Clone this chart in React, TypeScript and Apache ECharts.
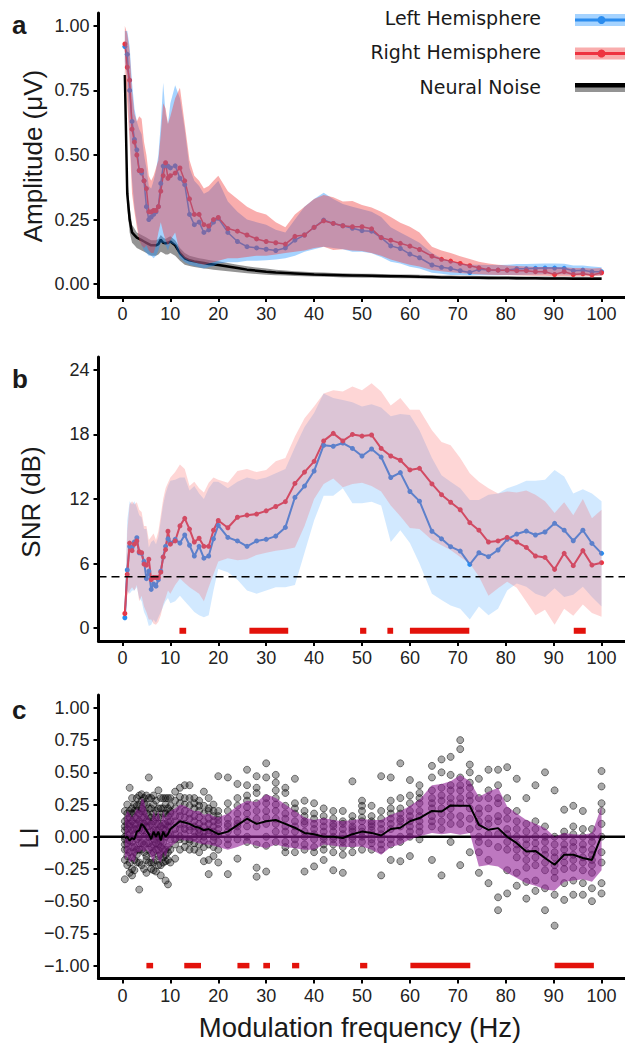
import React, { useEffect, useRef } from 'react';
import * as echarts from 'echarts';

// ---------------- DATA ----------------
const FREQ = [
  0.5, 1, 1.5, 2, 2.5, 3, 3.5, 4, 4.5, 5,
  5.5, 6, 6.5, 7, 7.5, 8, 8.5, 9, 9.5, 10,
  11, 12, 13, 14, 15, 16, 17, 18, 19, 20,
  22, 24, 26, 28, 30, 32, 34, 36, 38, 40,
  42, 44, 46, 48, 50, 52, 54, 56, 58, 60,
  62, 64.6, 66.6, 68.5, 70.5, 72.5, 74.4, 76.4, 78.4, 80.3,
  82.3, 84.3, 86.2, 88.2, 90.2, 92.2, 94.1, 96.1, 98, 100,
];
const X_TICKS = [0, 10, 20, 30, 40, 50, 60, 70, 80, 90, 100];
const AMP_TICKS = [0, 0.25, 0.5, 0.75, 1];
const SNR_TICKS = [0, 6, 12, 18, 24];
const LI_TICKS = [-1, -0.75, -0.5, -0.25, 0, 0.25, 0.5, 0.75, 1];
const LEGEND_LABELS = ['Left Hemisphere', 'Right Hemisphere', 'Neural Noise'];

// Panel a: amplitude (µV)
const AMP_LEFT = [
  .92, .89, .75, .63, .56, .52, .44, .43, .40, .30,
  .25, .26, .27, .28, .30, .39, .457, .46, .457, .45,
  .458, .41, .385, .27, .23, .24, .20, .21, .24, .255,
  .20, .165, .145, .14, .135, .13, .14, .17, .19, .22,
  .248, .235, .226, .216, .207, .205, .18, .148, .138, .116,
  .102, .074, .065, .06, .052, .045, .057, .055, .054, .054,
  .059, .059, .061, .062, .062, .061, .052, .054, .048, .048,
];
const AMP_RIGHT = [
  .93, .84, .79, .60, .55, .50, .44, .44, .40, .37,
  .28, .28, .285, .285, .30, .36, .42, .47, .41, .42,
  .43, .45, .40, .33, .27, .27, .23, .225, .25, .258,
  .215, .205, .19, .175, .165, .16, .155, .185, .19, .22,
  .245, .235, .226, .222, .222, .214, .18, .17, .158, .147,
  .134, .108, .096, .089, .08, .071, .063, .056, .054, .054,
  .052, .052, .048, .048, .037, .048, .037, .04, .035, .044,
];
const AMP_LEFT_HI = [
  .98, .98, .92, .78, .68, .63, .60, .58, .50, .45,
  .38, .37, .40, .44, .50, .62, .78, .66, .62, .70,
  .77, .72, .60, .45, .40, .38, .35, .36, .38, .40,
  .32, .28, .25, .24, .23, .21, .20, .25, .30, .33,
  .354, .33, .31, .30, .29, .28, .26, .22, .20, .18,
  .16, .12, .10, .09, .08, .075, .075, .074, .074, .075,
  .078, .078, .079, .08, .08, .079, .072, .072, .068, .065,
];
const AMP_LEFT_LO = [
  .86, .80, .58, .40, .30, .24, .18, .15, .13, .12,
  .11, .11, .10, .11, .13, .16, .16, .15, .13, .16,
  .15, .10, .085, .075, .07, .065, .06, .065, .07, .08,
  .085, .085, .09, .09, .092, .095, .10, .11, .125, .135,
  .145, .14, .135, .125, .125, .119, .105, .087, .08, .067,
  .06, .044, .04, .035, .035, .034, .034, .034, .034, .035,
  .035, .036, .037, .038, .038, .037, .035, .035, .034, .034,
];
const AMP_RIGHT_HI = [
  1.0, .97, .90, .75, .66, .63, .65, .64, .55, .50,
  .42, .40, .42, .45, .48, .58, .70, .68, .62, .65,
  .72, .76, .62, .48, .42, .40, .37, .38, .40, .42,
  .36, .33, .30, .28, .27, .24, .22, .27, .30, .33,
  .345, .336, .32, .322, .306, .297, .28, .26, .238, .222,
  .20, .145, .13, .12, .108, .097, .087, .08, .075, .072,
  .07, .068, .066, .066, .065, .065, .062, .062, .06, .062,
];
const AMP_RIGHT_LO = [
  .85, .70, .55, .35, .28, .22, .17, .15, .14, .15,
  .13, .12, .12, .15, .20, .24, .20, .17, .15, .17,
  .20, .12, .10, .09, .085, .08, .075, .08, .085, .09,
  .10, .10, .105, .11, .11, .115, .12, .125, .13, .14,
  .145, .132, .135, .13, .128, .12, .11, .095, .085, .075,
  .068, .055, .05, .046, .043, .04, .038, .036, .035, .035,
  .034, .033, .032, .032, .03, .03, .03, .03, .03, .032,
];
const NOISE = [
  .81, .35, .25, .20, .19, .18, .175, .17, .165, .16,
  .155, .15, .15, .15, .155, .172, .16, .158, .16, .165,
  .15, .12, .10, .092, .088, .085, .082, .078, .076, .074,
  .068, .062, .056, .052, .048, .045, .043, .041, .039, .037,
  .036, .035, .034, .033, .033, .032, .031, .03, .03, .029,
  .028, .027, .026, .026, .025, .025, .025, .024, .024, .024,
  .023, .023, .023, .022, .022, .022, .021, .021, .021, .021,
];
const NOISE_LO = [
  .78, .30, .20, .16, .15, .14, .135, .13, .125, .12,
  .115, .11, .11, .11, .115, .125, .12, .115, .115, .12,
  .11, .09, .075, .07, .066, .063, .06, .058, .056, .054,
  .05, .046, .042, .039, .036, .034, .033, .031, .03, .029,
  .028, .027, .026, .026, .025, .025, .024, .024, .023, .023,
  .022, .021, .021, .02, .02, .02, .019, .019, .019, .019,
  .018, .018, .018, .018, .017, .017, .017, .017, .017, .017,
];
const NOISE_HI = [
  .84, .42, .30, .23, .215, .20, .195, .19, .185, .18,
  .175, .17, .17, .17, .175, .19, .18, .175, .18, .185,
  .17, .14, .12, .11, .105, .10, .097, .093, .09, .088,
  .082, .075, .069, .064, .06, .056, .053, .05, .048, .046,
  .045, .043, .042, .041, .04, .04, .039, .038, .037, .037,
  .036, .034, .033, .033, .032, .032, .031, .031, .03, .03,
  .03, .029, .029, .029, .028, .028, .028, .028, .027, .027,
];

// Panel b: SNR (dB)
const SNR_LEFT = [
  .96, 5.4, 7.6, 7.5, 8.0, 8.4, 7.0, 6.95, 6.2, 4.6,
  5.3, 3.6, 4.1, 3.9, 4.5, 5.3, 6.6, 7.6, 8.3, 7.9,
  8.25, 7.9, 8.65, 7.7, 6.7, 7.6, 6.5, 6.7, 8.3, 9.55,
  8.43, 8.1, 7.6, 8.1, 8.25, 8.55, 9.36, 12.15, 13.2, 14.6,
  17.0, 16.9, 17.2, 16.7, 16.0, 16.65, 15.9, 14.0, 14.45, 12.7,
  11.8, 9.0, 8.3, 7.57, 7.16, 5.92, 7.0, 6.64, 7.26, 8.25,
  8.74, 9.02, 8.65, 8.93, 9.74, 9.1, 8.12, 9.1, 7.87, 6.95,
];
const SNR_RIGHT = [
  1.36, 5.0, 7.9, 7.2, 7.8, 8.1, 7.1, 7.0, 5.95, 5.85,
  6.4, 4.5, 4.7, 4.7, 4.7, 5.2, 6.6, 7.3, 9.0, 7.8,
  8.1, 9.5, 10.2, 9.2, 8.0, 8.35, 7.6, 7.6, 9.1, 10.0,
  9.33, 10.3, 10.5, 10.6, 10.9, 11.3, 11.75, 13.45, 14.5, 15.5,
  17.4, 18.1, 17.4, 18.0, 17.85, 17.95, 16.7, 16.0, 15.6, 14.7,
  14.85, 13.4, 12.4, 11.7, 11.0, 9.8, 9.1, 8.0, 8.1, 8.43,
  8.0, 7.5, 6.7, 6.57, 5.46, 6.95, 5.8, 7.2, 5.86, 6.08,
];
const SNR_LEFT_HI = [
  1.5, 10, 11.8, 11.5, 11.8, 11.2, 10.5, 10.3, 9.2, 9.2,
  7.5, 8, 8.2, 7.8, 8.5, 10, 11.5, 12.5, 13.2, 13.7,
  13.8, 14, 14, 12.8, 13.2, 12.5, 12, 13, 13.6, 13.6,
  13, 13.6, 14, 13.8, 14, 14.4, 14.8, 16.8, 18.7, 20,
  21.8, 21.4, 21.2, 21.0, 20.6, 20.8, 20.5, 19.7, 19.9, 19.8,
  18.4, 15.8, 14.2, 13.6, 13.0, 11.9, 11.9, 12.4, 12.5, 13.0,
  13.3, 13.7, 13.7, 13.8, 14.7, 14.1, 12.5, 12.9, 12.5, 11.8,
];
const SNR_LEFT_LO = [
  0.5, 3.5, 3.2, 3.5, 3.5, 3.8, 2.8, 2.5, 1.5, 1,
  0.2, 0.3, 0.8, 0.5, 1, 1.5, 2, 2.5, 2.8, 2.3,
  2.5, 3.0, 2.5, 2, 1.5, 1.2, 1, 1.2, 3.5, 5.5,
  5.2, 4.5, 3.5, 3.2, 3.5, 3.8, 3.8, 4, 7, 10,
  12.3, 12.3, 13.0, 11.6, 11.6, 11.75, 11.4, 8.0, 9.1, 7.9,
  6.0, 3.2, 2.6, 2.1, 1.8, 0.8, 2.0, 1.2, 1.8, 3.5,
  4.15, 3.85, 3.2, 2.9, 3.7, 2.9, 3.1, 3.85, 2.9, 2.0,
];
const SNR_RIGHT_HI = [
  2, 9, 11.5, 11.8, 11.5, 11.7, 11, 10.8, 9.5, 9.5,
  8.2, 8.5, 8.8, 8.2, 9, 10.5, 12, 13, 13.5, 14,
  14.5, 15.2, 14.8, 13.2, 13.6, 13.0, 12.6, 13.5, 14, 13.8,
  13.5, 14.6, 14.8, 14.5, 14.7, 15.5, 15.8, 17.8, 19.5, 20.6,
  21.8, 22.1, 22.0, 22.45, 22.1, 22.76, 22.0, 20.7, 21.4, 20.3,
  20.3, 18.4, 17.3, 17.0, 15.8, 14.4, 13.6, 13.0, 12.5, 12.7,
  12.6, 12.8, 12.4, 11.8, 10.7, 11.7, 10.5, 12.0, 10.2, 11.0,
];
const SNR_RIGHT_LO = [
  0.8, 3, 3.5, 3.8, 3.5, 4, 2.5, 3, 2, 1.5,
  0.8, 0.8, 0.4, 0.3, 0.6, 1.2, 2.2, 2.8, 3.5, 3.2,
  4, 4.6, 4.2, 3.8, 3.5, 3.2, 2.5, 3.8, 5, 6.2,
  6.5, 6.3, 6.4, 6.8, 7, 7.2, 7.3, 7.5, 9.5, 12,
  13.4, 13.9, 13.1, 13.4, 13.5, 13.2, 12.7, 11.4, 10.4, 9.3,
  9.2, 8.2, 7.7, 7.25, 6.6, 6.0, 4.8, 3.0, 3.7, 4.3,
  3.75, 2.45, 1.2, 1.7, 0.3, 1.8, 1.15, 2.2, 1.4, 1.05,
];
const SNR_THRESHOLD = 4.77;
const SNR_SIG = [[11.9, 13.3], [26.5, 34.6], [49.6, 50.9], [55.3, 56.5], [60, 72.4], [94.2, 96.7]];

// Panel c: laterality index
const LI_MEAN = [
  -0.01, 0.0, -0.03, -0.01, -0.02, 0.04, 0.05, 0.1, 0.08, 0.05,
  0.02, -0.02, 0.04, 0.0, 0.04, -0.03, 0.04, 0.0, 0.02, 0.06,
  0.09, 0.12, 0.11, 0.1, 0.08, 0.07, 0.05, 0.06, 0.04, 0.02,
  0.04, 0.09, 0.14, 0.1, 0.12, 0.13, 0.1, 0.07, 0.03, 0.02,
  0.0, 0.0, -0.01, 0.02, 0.04, 0.03, 0.01, 0.06, 0.07, 0.12,
  0.145, 0.2, 0.196, 0.243, 0.24, 0.24, 0.093, 0.054, 0.067, 0.0,
  -0.05, -0.114, -0.11, -0.165, -0.217, -0.14, -0.14, -0.165, -0.18, 0.008,
];
const LI_HI = [
  0.15, 0.2, 0.18, 0.15, 0.18, 0.22, 0.2, 0.3, 0.28, 0.2,
  0.15, 0.12, 0.2, 0.15, 0.2, 0.1, 0.2, 0.15, 0.18, 0.2,
  0.22, 0.25, 0.24, 0.22, 0.2, 0.2, 0.17, 0.18, 0.16, 0.15,
  0.18, 0.24, 0.28, 0.27, 0.33, 0.3, 0.25, 0.2, 0.15, 0.13,
  0.145, 0.13, 0.12, 0.13, 0.137, 0.13, 0.13, 0.17, 0.196, 0.24,
  0.287, 0.4, 0.41, 0.43, 0.48, 0.43, 0.31, 0.35, 0.38, 0.235,
  0.18, 0.13, 0.1, 0.067, 0.0, 0.03, 0.02, 0.016, 0.03, 0.235,
];
const LI_LO = [
  -0.18, -0.15, -0.2, -0.18, -0.2, -0.12, -0.12, -0.1, -0.12, -0.1,
  -0.12, -0.16, -0.2, -0.12, -0.18, -0.2, -0.12, -0.16, -0.1, -0.08,
  -0.05, -0.02, -0.03, -0.03, -0.04, -0.05, -0.06, -0.06, -0.07, -0.08,
  -0.1, -0.08, -0.05, -0.07, -0.09, -0.06, -0.08, -0.09, -0.1, -0.1,
  -0.06, -0.07, -0.08, -0.08, -0.075, -0.1, -0.14, -0.08, -0.06, -0.02,
  0.003, 0.03, 0.02, 0.03, 0.015, 0.03, -0.23, -0.22, -0.23, -0.28,
  -0.32, -0.36, -0.38, -0.41, -0.42, -0.35, -0.34, -0.33, -0.35, -0.26,
];
const LI_POINTS = [
  [0.12, 0.05, -0.02, -0.1, -0.18, 0.2, -0.33, 0.0, -0.06, 0.08],
  [0.18, 0.1, 0.02, -0.05, -0.15, -0.22, 0.25, 0.06, -0.1, 0.14],
  [0.38, 0.2, 0.08, -0.03, -0.12, -0.28, 0.15, -0.2, 0.02, 0.1],
  [0.22, 0.12, -0.04, -0.16, -0.25, 0.05, 0.18, -0.08, 0.3, -0.3],
  [0.15, 0.02, -0.08, -0.18, 0.25, -0.26, 0.1, -0.12, 0.06, 0.2],
  [0.3, 0.2, 0.1, -0.02, -0.14, -0.2, 0.06, 0.24, -0.1, 0.14],
  [0.25, 0.12, 0.0, -0.1, -0.41, 0.18, -0.2, 0.32, 0.06, -0.05],
  [0.33, 0.22, 0.15, 0.05, -0.05, 0.28, -0.1, 0.1, -0.22, 0.2],
  [0.3, 0.2, 0.1, 0.0, -0.12, 0.26, -0.25, 0.15, 0.05, -0.06],
  [0.32, 0.18, 0.08, -0.05, -0.15, 0.25, -0.18, 0.12, 0.02, -0.28],
  [0.46, 0.22, 0.12, 0.0, -0.1, 0.3, -0.2, 0.16, -0.05, 0.08],
  [0.3, 0.15, 0.04, -0.08, -0.2, 0.22, -0.25, 0.1, -0.13, 0.0],
  [0.25, 0.12, -0.02, -0.12, -0.26, 0.18, 0.05, -0.2, 0.32, -0.06],
  [0.2, 0.1, 0.0, -0.1, -0.27, 0.15, -0.18, 0.05, 0.28, -0.05],
  [0.36, 0.15, 0.05, -0.06, -0.15, 0.22, -0.22, 0.1, -0.1, 0.0],
  [0.22, 0.08, -0.04, -0.14, -0.22, 0.15, -0.3, 0.0, -0.08, 0.3],
  [0.3, 0.18, 0.06, -0.04, -0.16, 0.22, -0.2, 0.1, -0.1, 0.02],
  [0.25, 0.1, 0.0, -0.1, -0.19, 0.18, -0.34, 0.05, -0.14, 0.3],
  [0.22, 0.12, 0.02, -0.08, -0.18, 0.3, -0.37, 0.08, -0.12, 0.16],
  [0.3, 0.18, 0.08, -0.02, -0.1, 0.24, -0.2, 0.12, 0.02, 0.2],
  [0.35, 0.22, 0.12, 0.02, -0.06, 0.28, -0.17, 0.16, 0.06, -0.02],
  [0.38, 0.26, 0.16, 0.06, -0.02, 0.31, -0.1, 0.2, 0.1, 0.0],
  [0.4, 0.25, 0.15, 0.06, -0.03, 0.3, -0.08, 0.2, 0.1, 0.02],
  [0.4, 0.24, 0.14, 0.05, -0.04, 0.3, -0.1, 0.18, 0.08, -0.02],
  [0.3, 0.22, 0.12, 0.04, -0.05, 0.26, -0.1, 0.16, 0.08, 0.0],
  [0.28, 0.2, 0.1, 0.03, -0.06, 0.24, -0.12, 0.15, 0.06, 0.0],
  [0.35, 0.18, 0.08, 0.0, -0.08, 0.24, -0.19, 0.12, 0.04, -0.03],
  [0.3, 0.2, 0.1, 0.02, -0.06, 0.22, -0.29, 0.14, 0.05, -0.18],
  [0.25, 0.16, 0.08, 0.0, -0.08, 0.2, -0.15, 0.12, 0.04, -0.03],
  [0.47, 0.2, 0.1, 0.02, -0.1, 0.16, -0.2, 0.06, -0.04, 0.13],
  [0.46, 0.26, 0.14, 0.04, -0.06, 0.2, -0.29, 0.1, -0.02, 0.08],
  [0.41, 0.3, 0.18, 0.08, -0.02, 0.24, -0.17, 0.13, 0.04, 0.1],
  [0.52, 0.4, 0.28, 0.18, 0.08, 0.23, -0.04, 0.13, 0.0, 0.32],
  [0.47, 0.38, 0.34, 0.2, 0.08, 0.26, -0.31, 0.14, -0.06, -0.24],
  [0.57, 0.46, 0.3, 0.2, 0.1, 0.26, -0.27, 0.15, 0.0, -0.07],
  [0.48, 0.42, 0.3, 0.2, 0.1, 0.25, -0.04, 0.14, 0.04, 0.36],
  [0.38, 0.34, 0.24, 0.14, 0.04, 0.18, -0.12, 0.08, -0.04, -0.08],
  [0.45, 0.26, 0.18, 0.08, -0.02, 0.12, -0.12, 0.04, -0.06, 0.22],
  [0.28, 0.2, 0.12, 0.04, -0.06, 0.1, -0.27, 0.0, -0.1, 0.16],
  [0.26, 0.18, 0.1, 0.02, -0.08, 0.06, -0.23, -0.02, -0.12, 0.14],
  [0.22, 0.16, 0.08, 0.0, -0.06, 0.12, -0.18, -0.02, -0.1, 0.04],
  [0.2, 0.14, 0.08, 0.0, -0.06, 0.1, -0.26, -0.02, -0.12, 0.04],
  [0.2, 0.12, 0.06, -0.02, -0.08, 0.1, -0.28, -0.04, -0.14, 0.02],
  [0.43, 0.16, 0.08, 0.0, -0.06, 0.12, -0.12, 0.04, -0.02, 0.06],
  [0.28, 0.2, 0.12, 0.04, -0.04, 0.15, -0.1, 0.07, 0.0, 0.24],
  [0.24, 0.16, 0.1, 0.02, -0.05, 0.12, -0.1, 0.05, -0.02, 0.08],
  [0.47, 0.2, 0.1, 0.02, -0.06, 0.14, -0.3, -0.02, -0.1, 0.06],
  [0.46, 0.22, 0.14, 0.06, -0.02, 0.18, -0.18, 0.1, -0.06, 0.28],
  [0.57, 0.3, 0.18, 0.08, 0.0, 0.22, -0.19, 0.12, -0.04, 0.14],
  [0.44, 0.32, 0.2, 0.12, 0.04, 0.26, -0.15, 0.16, 0.0, 0.08],
  [0.4, 0.34, 0.26, 0.16, 0.08, 0.3, -0.02, 0.2, 0.04, 0.12],
  [0.55, 0.46, 0.36, 0.26, 0.16, 0.3, -0.18, 0.22, 0.08, 0.12],
  [0.6, 0.5, 0.38, 0.28, 0.18, 0.32, -0.3, 0.22, 0.06, 0.12],
  [0.62, 0.48, 0.4, 0.3, 0.22, 0.36, -0.04, 0.26, 0.1, 0.16],
  [0.75, 0.68, 0.46, 0.36, 0.26, 0.4, -0.22, 0.3, 0.1, 0.16],
  [0.56, 0.5, 0.42, 0.32, 0.22, 0.38, -0.12, 0.28, 0.06, 0.14],
  [0.45, 0.3, 0.18, 0.08, -0.04, 0.22, -0.28, 0.12, -0.12, 0.0],
  [0.52, 0.36, 0.22, 0.1, -0.05, 0.3, -0.36, 0.14, -0.18, 0.02],
  [0.52, 0.4, 0.26, 0.12, -0.08, 0.3, -0.57, 0.16, -0.47, 0.02],
  [0.54, 0.3, 0.14, 0.02, -0.1, 0.2, -0.44, 0.06, -0.26, -0.04],
  [0.45, 0.2, 0.06, -0.06, -0.16, 0.12, -0.38, 0.0, -0.28, -0.1],
  [0.3, 0.1, -0.02, -0.12, -0.24, 0.04, -0.48, -0.06, -0.35, -0.18],
  [0.4, 0.12, 0.0, -0.1, -0.22, 0.06, -0.42, -0.05, -0.34, -0.16],
  [0.5, 0.08, -0.04, -0.14, -0.26, 0.0, -0.57, -0.1, -0.4, -0.2],
  [0.36, 0.0, -0.12, -0.22, -0.32, -0.06, -0.69, -0.16, -0.45, -0.27],
  [0.21, 0.04, -0.06, -0.15, -0.25, 0.0, -0.49, -0.1, -0.36, -0.2],
  [0.24, 0.08, -0.04, -0.14, -0.24, 0.02, -0.45, -0.08, -0.34, -0.18],
  [0.2, 0.06, -0.06, -0.16, -0.26, 0.0, -0.45, -0.1, -0.36, -0.2],
  [0.06, 0.0, -0.1, -0.18, -0.28, -0.04, -0.5, -0.14, -0.4, -0.22],
  [0.51, 0.39, 0.26, 0.2, 0.1, 0.0, -0.12, -0.2, -0.36, -0.44],
];
const LI_SIG = [[5.0, 6.4], [12.9, 16.4], [24.0, 26.5], [29.4, 30.8], [35.4, 36.9], [49.6, 51.1], [60.1, 72.6], [90.2, 98.4]];

// ---------------- STYLE ----------------
const TICK_FONT = "'Liberation Sans', Arial, sans-serif";
const LEGEND_FONT = "'DejaVu Sans', Verdana, sans-serif";
const BLUE = '#2b8cee';
const RED = '#ee3340';
const X_MIN = -5;
const X_MAX = 105;

const pairs = (ys: number[]) => FREQ.map((f, i) => [f, ys[i]]);

const band = (g: number, lo: number[], hi: number[], fill: string, z: number) => ({
  type: 'custom',
  xAxisIndex: g,
  yAxisIndex: g,
  z,
  silent: true,
  clip: true,
  data: [[FREQ[0], lo[0]]],
  renderItem: (_p: any, api: any) => {
    const pts: number[][] = [];
    for (let i = 0; i < FREQ.length; i++) pts.push(api.coord([FREQ[i], hi[i]]));
    for (let i = FREQ.length - 1; i >= 0; i--) pts.push(api.coord([FREQ[i], lo[i]]));
    return { type: 'polygon', shape: { points: pts }, style: { fill } };
  },
});

const line = (g: number, ys: number[], color: string, width: number, sym: number, z: number) => ({
  type: 'line',
  xAxisIndex: g,
  yAxisIndex: g,
  z,
  silent: true,
  data: pairs(ys),
  symbol: sym > 0 ? 'circle' : 'none',
  symbolSize: sym,
  showAllSymbol: true,
  lineStyle: { color, width },
  itemStyle: { color, borderWidth: 0 },
});

const hline = (g: number, y: number, width: number, type: any, z: number) => ({
  type: 'line',
  xAxisIndex: g,
  yAxisIndex: g,
  z,
  silent: true,
  symbol: 'none',
  data: [[X_MIN, y], [X_MAX, y]],
  lineStyle: { color: '#000', width, type },
});

const sig = (g: number, intervals: number[][], yv: number, h: number) => ({
  type: 'custom',
  xAxisIndex: g,
  yAxisIndex: g,
  z: 20,
  silent: true,
  data: intervals.map(([s, e]) => [s, yv, e]),
  renderItem: (_p: any, api: any) => {
    const a = api.coord([api.value(0), api.value(1)]);
    const b = api.coord([api.value(2), api.value(1)]);
    return {
      type: 'rect',
      shape: { x: a[0], y: a[1] - h / 2, width: b[0] - a[0], height: h },
      style: { fill: '#e3120b' },
    };
  },
});

const xAxis = (g: number) => ({
  type: 'value',
  gridIndex: g,
  min: X_MIN,
  max: X_MAX,
  axisLine: { show: true, onZero: false, lineStyle: { color: '#000', width: 3 } },
  axisTick: { show: true, length: 5, customValues: X_TICKS, lineStyle: { color: '#000', width: 2 } },
  axisLabel: { customValues: X_TICKS, fontSize: 18, fontFamily: TICK_FONT, color: '#222', margin: 8 },
  splitLine: { show: false },
});

const yAxis = (g: number, min: number, max: number, ticks: number[], fmt: (v: number) => string) => ({
  type: 'value',
  gridIndex: g,
  min,
  max,
  axisLine: { show: true, onZero: false, lineStyle: { color: '#000', width: 3 } },
  axisTick: { show: true, length: 5, customValues: ticks, lineStyle: { color: '#000', width: 2 } },
  axisLabel: { customValues: ticks, formatter: fmt, fontSize: 18, fontFamily: TICK_FONT, color: '#222', margin: 9 },
  splitLine: { show: false },
});

const fmt2 = (v: number) => (v < 0 ? '\u2212' + (-v).toFixed(2) : v.toFixed(2));
const fmt0 = (v: number) => String(Math.round(v));

const text = (x: number, y: number, t: string, font: string, align: string, rotation = 0) => ({
  type: 'text',
  x,
  y,
  rotation,
  silent: true,
  style: { text: t, font, fill: '#1a1a1a', align, verticalAlign: 'middle' },
});

const legendKey = (y: number, lineColor: string, bandColor: string) => [
  { type: 'rect', shape: { x: 575, y: y - 6, width: 50, height: 12 }, style: { fill: bandColor }, silent: true },
  { type: 'line', shape: { x1: 575, y1: y, x2: 625, y2: y }, style: { stroke: lineColor, lineWidth: 3 }, silent: true },
  { type: 'circle', shape: { cx: 601.5, cy: y, r: 4 }, style: { fill: lineColor }, silent: true },
];

const buildOption = () => ({
  animation: false,
  backgroundColor: '#fff',
  grid: [
    { left: 98.5, top: 13, width: 527, height: 284, outerBoundsMode: 'none' },
    { left: 98.5, top: 357, width: 527, height: 284, outerBoundsMode: 'none' },
    { left: 98.5, top: 695, width: 527, height: 283.5, outerBoundsMode: 'none' },
  ],
  xAxis: [xAxis(0), xAxis(1), xAxis(2)],
  yAxis: [
    yAxis(0, -0.05, 1.05, AMP_TICKS, fmt2),
    yAxis(1, -1.2, 25.2, SNR_TICKS, fmt0),
    yAxis(2, -1.1, 1.1, LI_TICKS, fmt2),
  ],
  series: [
    // panel a
    band(0, NOISE_LO, NOISE_HI, 'rgba(0,0,0,0.42)', 1),
    line(0, NOISE, '#000', 2.5, 0, 2),
    line(0, AMP_LEFT, BLUE, 1.5, 5, 3),
    line(0, AMP_RIGHT, RED, 1.5, 5, 3),
    band(0, AMP_LEFT_LO, AMP_LEFT_HI, 'rgba(30,144,255,0.4)', 4),
    band(0, AMP_RIGHT_LO, AMP_RIGHT_HI, 'rgba(240,60,60,0.42)', 5),
    // panel b
    line(1, SNR_LEFT, BLUE, 2, 5, 3),
    line(1, SNR_RIGHT, RED, 2, 5, 3),
    band(1, SNR_LEFT_LO, SNR_LEFT_HI, 'rgba(30,144,255,0.2)', 4),
    band(1, SNR_RIGHT_LO, SNR_RIGHT_HI, 'rgba(250,90,90,0.25)', 5),
    hline(1, SNR_THRESHOLD, 1.5, [8, 5], 10),
    sig(1, SNR_SIG, -0.25, 6),
    // panel c
    {
      type: 'scatter',
      xAxisIndex: 2,
      yAxisIndex: 2,
      z: 1,
      silent: true,
      symbolSize: 7,
      data: LI_POINTS.flatMap((col, i) => col.map((v) => [FREQ[i], v])),
      itemStyle: { color: 'rgba(0,0,0,0.42)', borderColor: 'rgba(0,0,0,0.6)', borderWidth: 1 },
    },
    hline(2, 0, 2.5, 'solid', 2),
    band(2, LI_LO, LI_HI, 'rgba(145,30,150,0.6)', 3),
    line(2, LI_MEAN, '#000', 2, 0, 4),
    sig(2, LI_SIG, -1.0, 5.5),
  ],
  graphic: [
    text(12, 25, 'a', `bold 26px ${TICK_FONT}`, 'left'),
    text(12, 379, 'b', `bold 26px ${TICK_FONT}`, 'left'),
    text(12, 710, 'c', `bold 26px ${TICK_FONT}`, 'left'),
    text(33, 156, 'Amplitude (\u03bcV)', `26px ${TICK_FONT}`, 'center', Math.PI / 2),
    text(31, 502, 'SNR (dB)', `26px ${TICK_FONT}`, 'center', Math.PI / 2),
    text(29, 838, 'LI', `26px ${TICK_FONT}`, 'center', Math.PI / 2),
    text(360, 1027, 'Modulation frequency (Hz)', `27.5px ${TICK_FONT}`, 'center'),
    text(541, 18, LEGEND_LABELS[0], `19px ${LEGEND_FONT}`, 'right'),
    text(541, 52, LEGEND_LABELS[1], `19px ${LEGEND_FONT}`, 'right'),
    text(541, 87, LEGEND_LABELS[2], `19px ${LEGEND_FONT}`, 'right'),
    ...legendKey(20, BLUE, 'rgba(30,144,255,0.4)'),
    ...legendKey(53.5, RED, 'rgba(240,60,60,0.42)'),
    { type: 'rect', shape: { x: 575, y: 83, width: 50, height: 9 }, style: { fill: 'rgba(0,0,0,0.42)' }, silent: true },
    { type: 'rect', shape: { x: 575, y: 83, width: 50, height: 4.5 }, style: { fill: '#000' }, silent: true },
  ],
});

export default function App() {
  const ref = useRef<HTMLDivElement>(null);
  useEffect(() => {
    if (!ref.current) return;
    const chart = echarts.init(ref.current, null, { renderer: 'svg' });
    chart.setOption(buildOption() as any);
    return () => chart.dispose();
  }, []);
  return (
    <div
      ref={ref}
      style={{ position: 'absolute', left: 0, top: 0, width: 625, height: 1050, background: '#fff' }}
    />
  );
}
